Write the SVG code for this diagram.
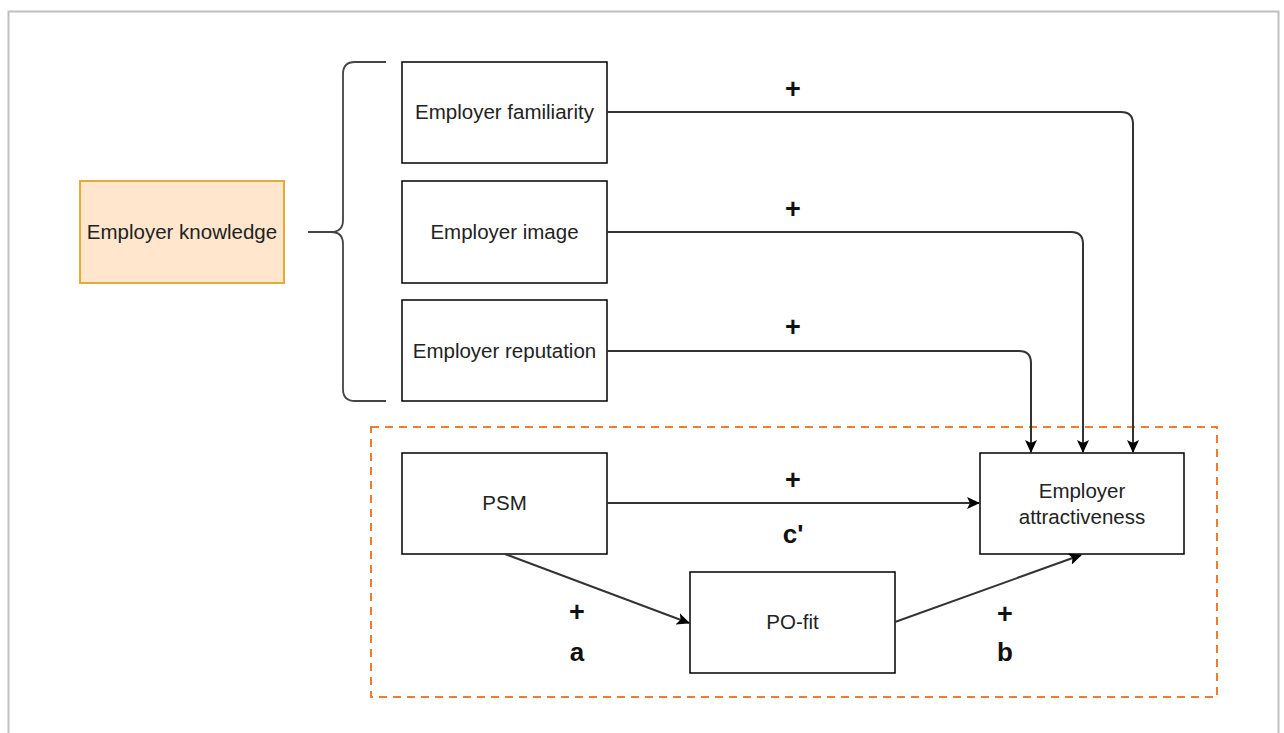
<svg xmlns="http://www.w3.org/2000/svg" width="1284" height="733" viewBox="0 0 1284 733">
<style>
.box{fill:#fff;stroke:#000;stroke-width:1.5}
.lbl{font-family:"Liberation Sans",Arial,sans-serif;font-size:20.5px;fill:#222;text-anchor:middle}
.sign{font-family:"Liberation Sans",Arial,sans-serif;font-size:27px;font-weight:bold;fill:#111;text-anchor:middle}
.let{font-family:"Liberation Sans",Arial,sans-serif;font-size:26px;font-weight:bold;fill:#111;text-anchor:middle}
.conn{fill:none;stroke:#333;stroke-width:2}
</style>
<defs>
<marker id="arr" markerWidth="14" markerHeight="12" refX="12" refY="6" orient="auto" markerUnits="userSpaceOnUse">
<path d="M0,0 L13,6 L0,12 L3,6 Z" fill="#000"/>
</marker>
</defs>
<rect x="0" y="0" width="1284" height="733" fill="#fff"/>
<rect x="8.5" y="11.5" width="1270" height="740" fill="none" stroke="#bfbfbf" stroke-width="2"/>

<g id="brace">
<path d="M386,62 L355,62 Q343,62 343,74 L343,220 Q343,232 331,232 L308,232 M331,232 Q343,232 343,244 L343,389 Q343,401 355,401 L386,401" fill="none" stroke="#444" stroke-width="1.8"/>
</g>

<g id="group-box">
<rect x="371" y="427" width="846" height="270" fill="none" stroke="#ED7D31" stroke-width="2" stroke-dasharray="8,6"/>
</g>

<g id="employer-knowledge">
<rect x="80" y="181" width="204" height="102" fill="#ffe6cc" stroke="#e3ac36" stroke-width="2"/>
<text class="lbl" x="182" y="239">Employer knowledge</text>
</g>
<g id="employer-familiarity">
<rect class="box" x="402" y="62" width="205" height="101"/>
<text class="lbl" x="504.5" y="119">Employer familiarity</text>
</g>
<g id="employer-image">
<rect class="box" x="402" y="181" width="205" height="102"/>
<text class="lbl" x="504.5" y="239">Employer image</text>
</g>
<g id="employer-reputation">
<rect class="box" x="402" y="300" width="205" height="101"/>
<text class="lbl" x="504.5" y="358">Employer reputation</text>
</g>
<g id="psm">
<rect class="box" x="402" y="453" width="205" height="101"/>
<text class="lbl" x="504.5" y="510">PSM</text>
</g>
<g id="employer-attractiveness">
<rect class="box" x="980" y="453" width="204" height="101"/>
<text class="lbl" x="1082" y="498">Employer</text>
<text class="lbl" x="1082" y="524">attractiveness</text>
</g>
<g id="po-fit">
<rect class="box" x="690" y="572" width="205" height="101"/>
<text class="lbl" x="792.5" y="629">PO-fit</text>
</g>

<g id="connectors">
<path class="conn" d="M607,112 L1121,112 Q1133,112 1133,124 L1133,452" marker-end="url(#arr)"/>
<path class="conn" d="M607,232 L1071,232 Q1083,232 1083,244 L1083,452" marker-end="url(#arr)"/>
<path class="conn" d="M607,351 L1019,351 Q1031,351 1031,363 L1031,452" marker-end="url(#arr)"/>
<path class="conn" d="M607,503 L979,503" marker-end="url(#arr)"/>
<path class="conn" d="M505,554 L689,623" marker-end="url(#arr)"/>
<path class="conn" d="M895,622 L1081,555" marker-end="url(#arr)"/>
</g>

<g id="labels">
<text class="sign" x="793" y="98">+</text>
<text class="sign" x="793" y="218">+</text>
<text class="sign" x="793" y="336">+</text>
<text class="sign" x="793" y="489">+</text>
<text class="let" x="793" y="543">c'</text>
<text class="sign" x="577" y="621">+</text>
<text class="let" x="577" y="661">a</text>
<text class="sign" x="1005" y="623">+</text>
<text class="let" x="1005" y="661">b</text>
</g>
</svg>
